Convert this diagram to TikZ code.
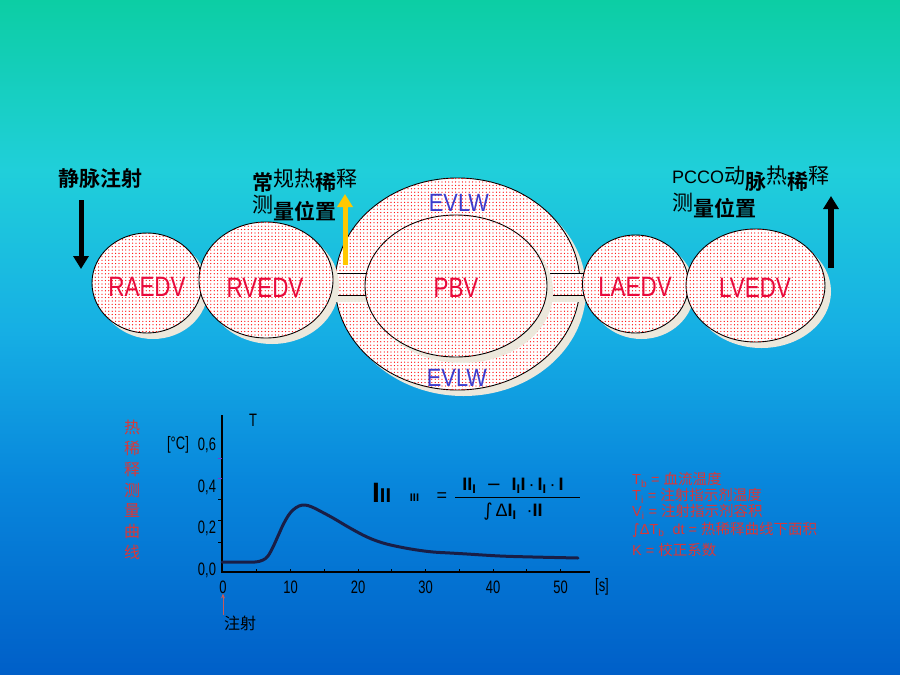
\documentclass[tikz,border=0pt]{standalone}
\usepackage{graphicx}
\usepackage{fontspec}
\setmainfont{Liberation Sans}
\newfontfamily\cjk{Noto Sans CJK SC}[BoldFont={Noto Sans CJK SC Bold}]
\newfontfamily\dejavu{DejaVu Sans}
\usetikzlibrary{shapes.geometric,patterns.meta,shadows,arrows.meta}
\definecolor{bgA}{RGB}{12,206,164}
\definecolor{bgB}{RGB}{32,207,218}
\definecolor{bgC}{RGB}{22,175,228}
\definecolor{bgD}{RGB}{8,135,220}
\definecolor{bgE}{RGB}{0,95,200}
\definecolor{labred}{RGB}{232,10,60}
\definecolor{evblue}{RGB}{60,60,205}
\definecolor{shadowc}{RGB}{236,232,220}
\definecolor{legred}{RGB}{218,55,55}
\definecolor{curvec}{RGB}{25,30,70}
\definecolor{arrowy}{RGB}{255,200,0}
\definecolor{tickp}{RGB}{110,60,210}
\definecolor{injred}{RGB}{200,90,90}
\newcommand{\nar}[1]{\scalebox{0.72}[1]{#1}}
\newcommand{\lab}[1]{\scalebox{0.8}[1]{#1}}
\newcommand{\up}[2]{\raisebox{#1pt}{\mdseries #2}}
\tikzset{
  dotfill/.style={fill=white, postaction={pattern={Dots[distance=3.4pt,radius=0.65pt]}, pattern color=red}},
  chamber/.style={ellipse, draw=black, line width=0.9pt, inner sep=0pt, dotfill,
    drop shadow={shadow xshift=6pt, shadow yshift=-6pt, fill=shadowc, opacity=1}},
  chlabel/.style={text=labred, inner sep=0pt, font=\fontsize{28}{28}\selectfont},
  evlabel/.style={text=evblue, inner sep=0pt, font=\fontsize{25}{25}\selectfont},
  bigarrow/.style={line width=5pt, -{Triangle[width=15pt,length=13pt]}},
  axlab/.style={inner sep=0pt, font=\fontsize{18}{18}\selectfont},
  leg/.style={anchor=west, inner sep=0pt, text=legred, font=\fontsize{14.5}{14.5}\selectfont},
  fml/.style={inner sep=0pt, font=\bfseries\fontsize{18}{18}\selectfont},
}
\begin{document}
\begin{tikzpicture}[x=1pt,y=-1pt]
\useasboundingbox (0,0) rectangle (900,675);
% background
\shade[top color=bgA, bottom color=bgB] (0,0) rectangle (900,170.5);
\shade[top color=bgB, bottom color=bgC] (0,170) rectangle (900,330.5);
\shade[top color=bgC, bottom color=bgD] (0,330) rectangle (900,480.5);
\shade[top color=bgD, bottom color=bgE] (0,480) rectangle (900,675);

% outer EVLW ellipse
\node[chamber, minimum width=245, minimum height=212] (evlw) at (457.5,284) {};
% vessels
\fill[shadowc] (325,295) rectangle (372,302);
\path[dotfill] (325,273) rectangle (372,295);
\draw[line width=0.9pt] (325,273) -- (372,273) (325,295) -- (372,295);
\fill[shadowc] (540,295) rectangle (592,302);
\path[dotfill] (540,273) rectangle (592,295);
\draw[line width=0.9pt] (540,273) -- (592,273) (540,295) -- (592,295);
% chambers
\node[chamber, minimum width=182, minimum height=142] (pbv) at (456,286) {};
\node[chamber, minimum width=110, minimum height=100] (raedv) at (147,283) {};
\node[chamber, minimum width=134, minimum height=116] (rvedv) at (266,280) {};
\node[chamber, minimum width=106, minimum height=98] (laedv) at (635.5,284) {};
\node[chamber, minimum width=139, minimum height=113] (lvedv) at (755.5,285.5) {};
% labels
\node[chlabel] (raedvt) at (147,287) {\lab{RAEDV}};
\node[chlabel] (rvedvt) at (265,288) {\lab{RVEDV}};
\node[chlabel] (pbvt) at (456,288) {\lab{PBV}};
\node[chlabel] (laedvt) at (635,287) {\lab{LAEDV}};
\node[chlabel] (lvedvt) at (755,288) {\lab{LVEDV}};
\node[evlabel] (evlwa) at (459,202.5) {\scalebox{0.87}[1]{EVLW}};
\node[evlabel] (evlwb) at (457,377.5) {\scalebox{0.87}[1]{EVLW}};

% arrows
\coordinate (a1s) at (81,200); \coordinate (a1e) at (81,269);
\draw[bigarrow] (a1s) -- (a1e);
\coordinate (a2s) at (345,265); \coordinate (a2e) at (345,194);
\draw[bigarrow, draw=arrowy, fill=arrowy] (a2s) -- (a2e);
\coordinate (a3s) at (831,268); \coordinate (a3e) at (831,196);
\draw[bigarrow, line width=6pt] (a3s) -- (a3e);

% top texts
\node[inner sep=0pt, font={\cjk\bfseries\fontsize{21}{21}\selectfont}] (jmzs) at (100,179) {静脉注射};
\node[anchor=west, inner sep=0pt, font={\cjk\bfseries\fontsize{21}{21}\selectfont}] (cg1) at (252,181) {常\up{4}{规热}稀\up{4}{释}};
\node[anchor=west, inner sep=0pt, font={\cjk\bfseries\fontsize{21}{21}\selectfont}] (cg2) at (252,208) {\up{6.5}{测}量位置};
\node[anchor=west, inner sep=0pt, font={\cjk\bfseries\fontsize{21}{21}\selectfont}] (pc1) at (672,179) {\up{6}{\rmfamily\fontsize{18}{18}\selectfont PCCO}\up{6}{动}脉\up{6}{热}稀\up{6}{释}};
\node[anchor=west, inner sep=0pt, font={\cjk\bfseries\fontsize{21}{21}\selectfont}] (pc2) at (672,205.5) {\up{6.5}{测}量位置};

% chart axes
\draw[line width=1.4pt] (222,415) -- (222,572) -- (590,572);
\foreach \t in {5,10,...,50} \draw[line width=0.8pt] ({223+6.75*\t},572) -- ++(0,-3);
\foreach \yy in {499,520,542} \draw[line width=0.8pt] (218,\yy) -- (222,\yy);
\foreach \yy in {458,478} \draw[line width=0.8pt, tickp] (218,\yy) -- (222,\yy);
\foreach \t/\n in {0/xa,10/xb,20/xc,30/xd,40/xe,50/xf}
  \node[axlab] (\n) at ({223+6.75*\t},587) {\nar{\t}};
\node[axlab] (xs) at (602,587) {\nar{[s]}};
\foreach \v/\lbl/\n in {0/{0,0}/ya, 0.2/{0,2}/yb, 0.4/{0,4}/yc, 0.6/{0,6}/yd}
  \node[axlab] (\n) at ({207},{570-207.5*\v}) {\nar{\lbl}};
\node[axlab] (yunit) at (178,445) {\nar{[°C]}};
\node[axlab] (yT) at (253,420) {\nar{T}};
% curve
\draw[curvec, line width=3pt, line join=round, line cap=round] plot[smooth, tension=0.6] coordinates {
 (222,562) (240,562) (255,562) (263,560) (268,556) (273,547) (278,536) (283,525)
 (288,516) (293,510) (299,506) (305,505) (312,507) (320,511) (333,518) (350,528)
 (367,537) (383,543) (400,547) (417,550) (433,552) (450,553) (467,554) (500,556)
 (533,557) (578,558)};
% injection marker
\node[inner sep=0pt, font={\cjk\fontsize{16}{16}\selectfont}] (zs) at (240,623) {注射};
\coordinate (injtail) at (223,615);
\draw[injred, line width=0.7pt, -{Stealth[length=5pt,width=4pt]}] (injtail) -- (xa.south);

% vertical red text
\node[inner sep=0pt, align=center, text=legred, font={\cjk\fontsize{16}{20.8}\selectfont}] (vtxt) at (132,490) {热\\稀\\释\\测\\量\\曲\\线};

% formula
\node[inner sep=0pt, anchor=west, font=\bfseries\fontsize{28}{28}\selectfont] (flhs) at (372,493) {I\fontsize{20}{20}\selectfont II};
\node[inner sep=0pt, font=\bfseries\fontsize{11}{11}\selectfont] (fsub) at (414.5,498) {III};
\node[inner sep=0pt, font=\fontsize{18}{18}\selectfont] (feq) at (442,497) {=};
\coordinate (fbl) at (455,497); \coordinate (fbr) at (580,497);
\draw[line width=1pt] (fbl) -- (fbr);
\node[fml] (fnum) at (513,486) {II\textsubscript{I}\ \ {\dejavu\mdseries −}\ \ I\textsubscript{I}I\,{\mdseries·}\,I\textsubscript{I}\,{\mdseries·}\,I};
\node[fml] (fden) at (513,512) {{\dejavu\mdseries ∫}\,{\mdseries Δ}I\textsubscript{I}\ \ {\mdseries·}II};

% legend
\node[leg] (lg1) at (632,480) {T\textsubscript{b} = {\cjk 血流温度}};
\node[leg] (lg2) at (632,496) {T\textsubscript{i} = {\cjk 注射指示剂温度}};
\node[leg] (lg3) at (632,512) {V\textsubscript{i} = {\cjk 注射指示剂容积}};
\node[leg] (lg4) at (632,530) {{\dejavu ∫}ΔT\textsubscript{b}\ \ dt = {\cjk 热稀释曲线下面积}};
\node[leg] (lg5) at (632,550) {K = {\cjk 校正系数}};
\end{tikzpicture}
\end{document}
